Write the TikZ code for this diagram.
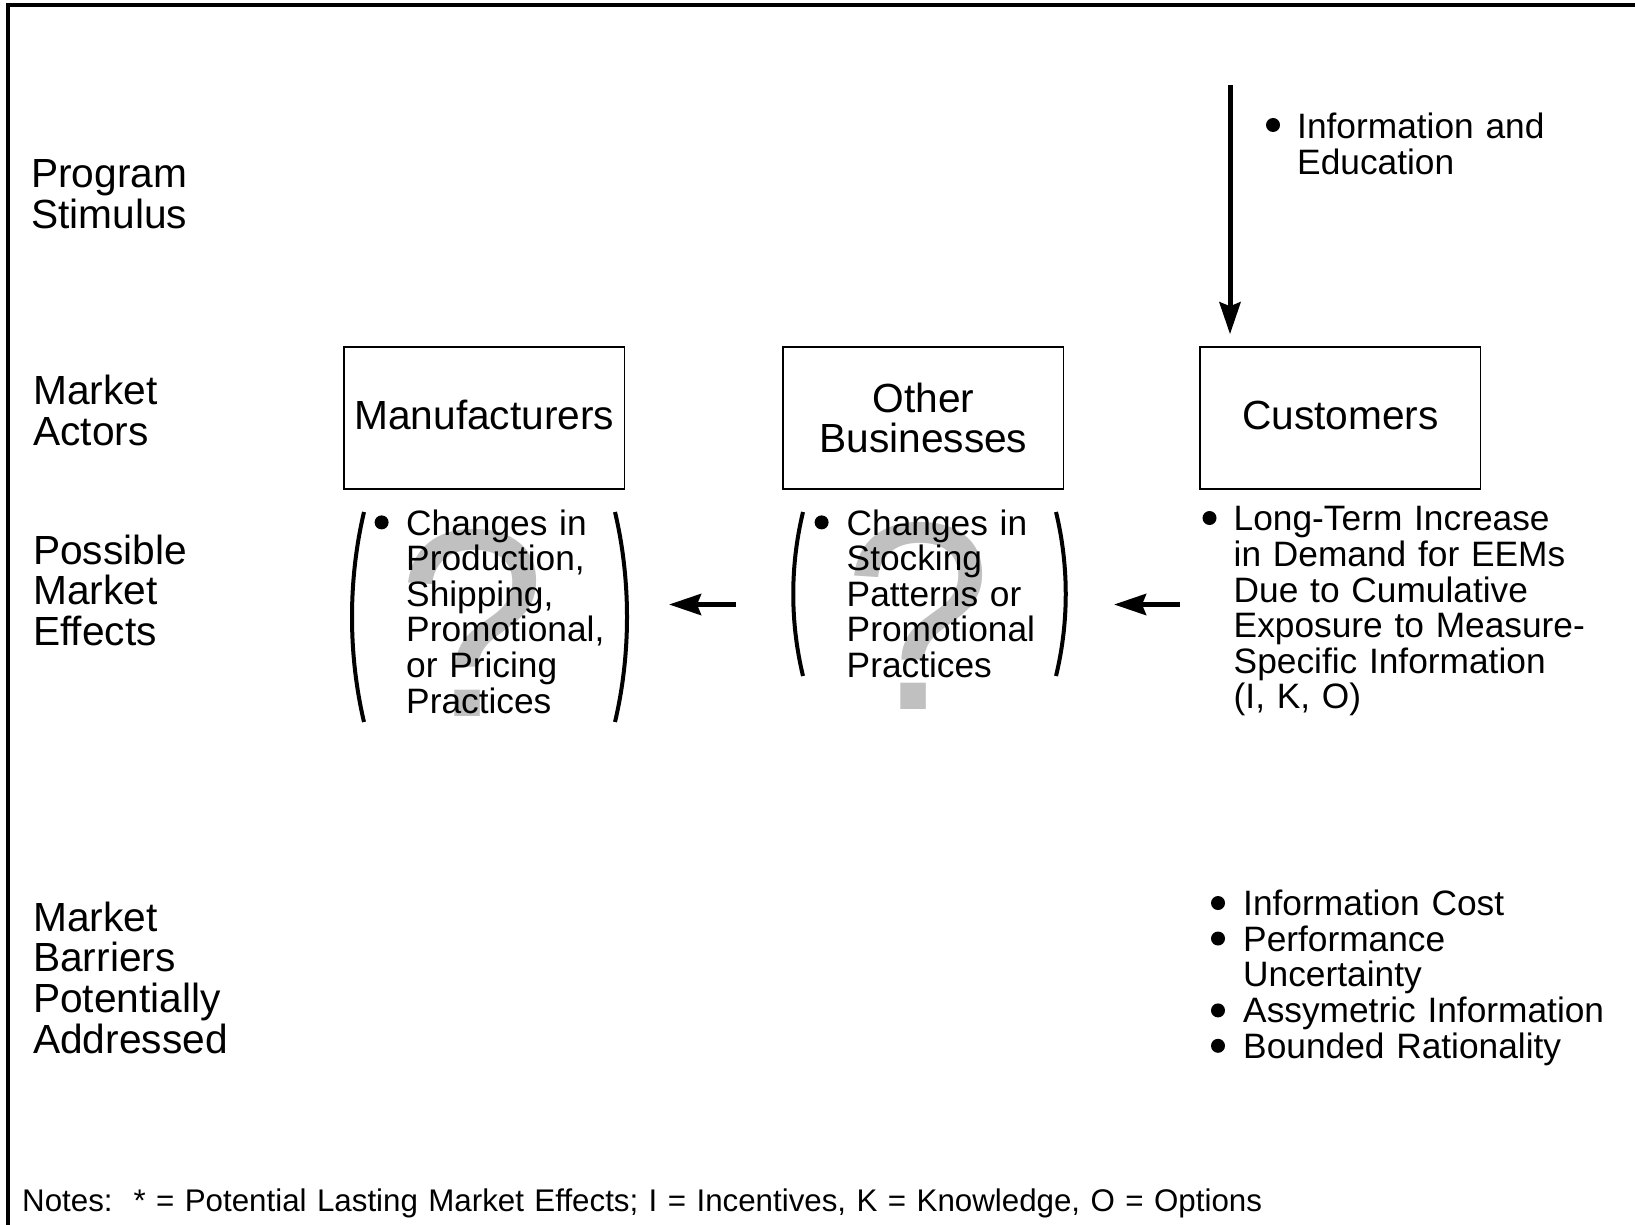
\documentclass[tikz,border=0pt]{standalone}
\usepackage{fontspec}
\setmainfont{Liberation Sans}
\usetikzlibrary{arrows.meta}
\definecolor{qgray}{RGB}{192,192,192}
\begin{document}
\begin{tikzpicture}[x=1pt,y=-1pt,
  big/.style={font=\fontsize{40.7}{40.7}\selectfont},
  med/.style={font=\fontsize{35.3}{35.6}\selectfont},
  txt/.style={inner sep=0pt, anchor=base west, align=left, text width=450pt},
  actor/.style={draw, line width=1.5pt, minimum width=280.5pt, minimum height=142pt, big, align=center, inner sep=0pt},
  dot/.style={circle, fill, inner sep=0pt, minimum size=14pt},
  paren/.style={line width=4pt},
  flow/.style={line width=5pt, -{Stealth[length=32pt, width=21pt, inset=4pt]}},
  qmark/.style={text=qgray, font=\fontsize{268}{268}\selectfont, inner sep=0pt, anchor=base}
]
\useasboundingbox (0,0) rectangle (1635,1225);
% frame
\draw[line width=4pt, line join=miter] (8,1230) -- (8,5) -- (1640,5);

% question marks (behind text)
\node[qmark] (q1) at (472,716) {?};
\node[qmark] (q2) at (918,709) {?};

% row labels
\node[txt, big] (lstim) at (31,188) {Program\\Stimulus};
\node[txt, big] (lact) at (33,404.6) {Market\\Actors};
\node[txt, big] (leff) at (33,564) {Possible\\Market\\Effects};
\node[txt, big] (lbar) at (33,931) {Market\\Barriers\\Potentially\\Addressed};

% actors
\node[actor, text depth=6pt] (manu) at (484.3,418) {Manufacturers};
\node[actor, font=\fontsize{40.7}{39.6}\selectfont] (other) at (923.3,418) {Other\\Businesses};
\node[actor, text depth=6pt] (cust) at (1340.4,418) {Customers};

% program stimulus
\coordinate (stimtop) at (1230,85);
\draw[flow, shorten >=12pt] (stimtop) -- (stimtop |- cust.north);
\node[dot] (dinfo) at (1273,125) {};
\node[txt, med] (info) at (1297,138.5) {Information and\\Education};

% customer effects
\node[dot] (dcust) at (1209.5,518) {};
\node[txt, med] (ceff) at (1233.5,530.8) {Long-Term Increase\\in Demand for EEMs\\Due to Cumulative\\Exposure to Measure-\\Specific Information\\(I, K, O)};

% other businesses effects
\node[dot] (dother) at (821.6,522.4) {};
\node[txt, med] (oeff) at (846.5,535) {Changes in\\Stocking\\Patterns or\\Promotional\\Practices};
\draw[paren] (803,512) .. controls (790,566) and (790,622) .. (803,676);
\draw[paren] (1056,512) .. controls (1069,566) and (1069,622) .. (1056,676);

% manufacturers effects
\node[dot] (dmanu) at (381.6,522.4) {};
\node[txt, med] (meff) at (406,535) {Changes in\\Production,\\Shipping,\\Promotional,\\or Pricing\\Practices};
\draw[paren] (364,512) .. controls (348,580) and (348,654) .. (364,722);
\draw[paren] (615,512) .. controls (631,580) and (631,654) .. (615,722);

% effect arrows
\coordinate (r1) at (1180,604.5);
\coordinate (r2) at (1114,604.5);
\coordinate (l1) at (736,604.5);
\coordinate (l2) at (669,604.5);
\draw[flow] (r1) -- (r2);
\draw[flow] (l1) -- (l2);

% barriers
\node[dot] (db1) at (1218,903) {};
\node[dot] (db2) at (1218,938.5) {};
\node[dot] (db3) at (1218,1010.4) {};
\node[dot] (db4) at (1218,1045.8) {};
\node[txt, med] (bar) at (1243,915.6) {Information Cost\\Performance\\Uncertainty\\Assymetric Information\\Bounded Rationality};

% notes
\node[txt, text width=1500pt, font=\fontsize{31.3}{34}\selectfont] (notes) at (22,1211.5) {Notes:\ \ * = Potential Lasting Market Effects; I = Incentives, K = Knowledge, O = Options};
\end{tikzpicture}
\end{document}
